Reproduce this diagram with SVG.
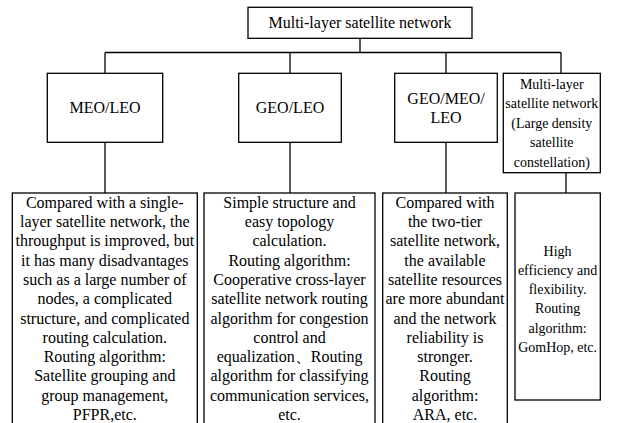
<svg xmlns="http://www.w3.org/2000/svg" width="626" height="423" viewBox="0 0 626 423">
<style>
rect{fill:#fff;stroke:#000;stroke-width:1.3}
line,path{stroke:#000;stroke-width:1.3;fill:none}
text{font-family:'Liberation Serif','DejaVu Serif',serif;font-size:16px;fill:#000;text-anchor:middle}
text.sm{font-size:14px}
</style>
<rect x="0" y="0" width="626" height="423" style="stroke:none"/>
<g id="connectors">
<line x1="360" y1="38" x2="360" y2="52.5"/>
<line x1="105" y1="52.5" x2="561" y2="52.5"/>
<line x1="105" y1="52.5" x2="105" y2="73.3"/>
<line x1="290" y1="52.5" x2="290" y2="73.3"/>
<line x1="446" y1="52.5" x2="446" y2="73.3"/>
<line x1="561" y1="52.5" x2="561" y2="73.3"/>
<line x1="105" y1="142.3" x2="105" y2="193"/>
<line x1="290" y1="142.3" x2="290" y2="193"/>
<line x1="446" y1="142.3" x2="446" y2="193"/>
<line x1="566" y1="172.7" x2="566" y2="193"/>
</g>
<g id="root">
<rect x="248" y="7.3" width="224" height="31"/>
<text x="360" y="28">Multi-layer satellite network</text>
</g>
<g id="meo-leo">
<rect x="47.3" y="73.3" width="115.4" height="69"/>
<text x="105" y="113">MEO/LEO</text>
</g>
<g id="geo-leo">
<rect x="238.7" y="73.3" width="102.6" height="69"/>
<text x="290" y="113">GEO/LEO</text>
</g>
<g id="geo-meo-leo">
<rect x="394.7" y="73.3" width="102.6" height="69"/>
<text x="446" y="104">GEO/MEO/</text>
<text x="446" y="123.3">LEO</text>
</g>
<g id="multi-layer-dense">
<rect x="503.3" y="73.3" width="97" height="99.4"/>
<text class="sm" x="551.8"><tspan x="551.8" y="89">Multi-layer</tspan><tspan x="551.8" y="108.4">satellite network</tspan><tspan x="551.8" y="127.8">(Large density</tspan><tspan x="551.8" y="147.2">satellite</tspan><tspan x="551.8" y="166.6">constellation)</tspan></text>
</g>
<g id="desc-meo-leo">
<rect x="12.3" y="193" width="185" height="240"/>
<text x="104.8"><tspan x="104.8" y="207.7">Compared with a single-</tspan><tspan x="104.8" y="227">layer satellite network, the</tspan><tspan x="104.8" y="246.3">throughput is improved, but</tspan><tspan x="104.8" y="265.6">it has many disadvantages</tspan><tspan x="104.8" y="284.9">such as a large number of</tspan><tspan x="104.8" y="304.2">nodes, a complicated</tspan><tspan x="104.8" y="323.5">structure, and complicated</tspan><tspan x="104.8" y="342.8">routing calculation.</tspan><tspan x="104.8" y="362.1">Routing algorithm:</tspan><tspan x="104.8" y="381.4">Satellite grouping and</tspan><tspan x="104.8" y="400.7">group management,</tspan><tspan x="104.8" y="420">PFPR,etc.</tspan></text>
</g>
<g id="desc-geo-leo">
<rect x="204" y="193" width="171" height="240"/>
<text x="289.5"><tspan x="289.5" y="207.7">Simple structure and</tspan><tspan x="289.5" y="227">easy topology</tspan><tspan x="289.5" y="246.3">calculation.</tspan><tspan x="289.5" y="265.6">Routing algorithm:</tspan><tspan x="289.5" y="284.9">Cooperative cross-layer</tspan><tspan x="289.5" y="304.2">satellite network routing</tspan><tspan x="289.5" y="323.5">algorithm for congestion</tspan><tspan x="289.5" y="342.8">control and</tspan><tspan x="289.5" y="362.1">equalization、Routing</tspan><tspan x="289.5" y="381.4">algorithm for classifying</tspan><tspan x="289.5" y="400.7">communication services,</tspan><tspan x="289.5" y="420">etc.</tspan></text>
</g>
<g id="desc-geo-meo-leo">
<rect x="382.7" y="193" width="124.6" height="240"/>
<text x="445"><tspan x="445" y="207.7">Compared with</tspan><tspan x="445" y="227">the two-tier</tspan><tspan x="445" y="246.3">satellite network,</tspan><tspan x="445" y="265.6">the available</tspan><tspan x="445" y="284.9">satellite resources</tspan><tspan x="445" y="304.2">are more abundant</tspan><tspan x="445" y="323.5">and the network</tspan><tspan x="445" y="342.8">reliability is</tspan><tspan x="445" y="362.1">stronger.</tspan><tspan x="445" y="381.4">Routing</tspan><tspan x="445" y="400.7">algorithm:</tspan><tspan x="445" y="420">ARA, etc.</tspan></text>
</g>
<g id="desc-multi-layer-dense">
<rect x="515" y="193" width="85.3" height="207"/>
<text class="sm" x="557.6"><tspan x="557.6" y="255.5">High</tspan><tspan x="557.6" y="274.8">efficiency and</tspan><tspan x="557.6" y="294.1">flexibility.</tspan><tspan x="557.6" y="313.4">Routing</tspan><tspan x="557.6" y="332.7">algorithm:</tspan><tspan x="557.6" y="352">GomHop, etc.</tspan></text>
</g>
</svg>
